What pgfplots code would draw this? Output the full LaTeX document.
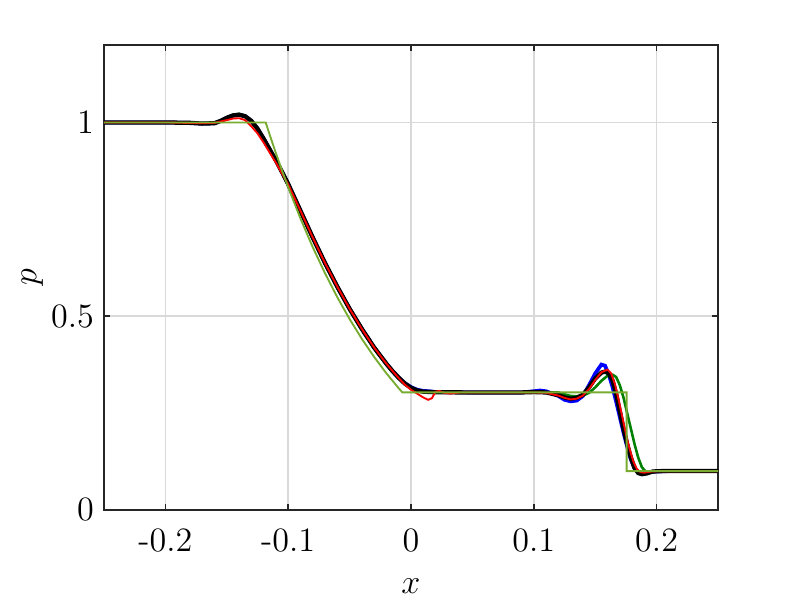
\documentclass[border=0pt]{standalone}
\usepackage{pgfplots}
\pgfplotsset{compat=1.18}
\usetikzlibrary{calc}
\definecolor{mlgreen}{rgb}{0.466,0.674,0.188}
\definecolor{dkgreen}{rgb}{0,0.5,0}
\begin{document}
\begin{tikzpicture}
\begin{axis}[
    name=ax,
    scale only axis,
    width=215bp, height=162.75bp,
    xmin=-0.25, xmax=0.25,
    ymin=0, ymax=1.2,
    xtick={-0.2,-0.1,0,0.1,0.2},
    xticklabels={-0.2,-0.1,0,0.1,0.2},
    ytick={0,0.5,1},
    yticklabels={0,0.5,1},
    tick label style={font=\large},
    label style={font=\large},
    xticklabel shift=3bp,
    xlabel shift=2.5bp,
    ylabel shift=-4bp,
    xlabel={$x$}, ylabel={$p$},
    grid=major,
    major grid style={black!15, line width=0.5bp},
    axis line style={black!85, line width=0.5bp},
    major tick length=2.1bp,
    tick style={black!85, line width=0.5bp},
    tick align=inside,
]
% blue
\addplot[blue, line width=1.3bp] coordinates {
(-0.25,1.0) (-0.2,1.0) (-0.18,0.999) (-0.17,0.997) (-0.16,0.998) (-0.155,1.004)
(-0.15,1.012) (-0.145,1.018) (-0.14,1.020) (-0.135,1.016) (-0.13,1.004) (-0.125,0.984)
(-0.12,0.958) (-0.115,0.930) (-0.11,0.902) (-0.105,0.872) (-0.10,0.841) (-0.09,0.772)
(-0.08,0.703) (-0.07,0.637) (-0.06,0.576) (-0.05,0.519) (-0.04,0.467) (-0.03,0.419)
(-0.02,0.377) (-0.015,0.358) (-0.01,0.341) (-0.005,0.327) (0,0.317) (0.005,0.310)
(0.01,0.307) (0.015,0.306) (0.02,0.304) (0.05,0.303) (0.09,0.303) (0.1,0.306)
(0.105,0.308) (0.11,0.306) (0.12,0.294) (0.125,0.284) (0.13,0.280) (0.135,0.282)
(0.14,0.294) (0.145,0.322) (0.15,0.352) (0.155,0.375) (0.158,0.372) (0.161,0.350)
(0.164,0.318) (0.167,0.280) (0.170,0.240) (0.173,0.200) (0.176,0.163) (0.179,0.130)
(0.182,0.107) (0.185,0.097) (0.19,0.096) (0.2,0.099) (0.21,0.1) (0.25,0.1)
};
% dark green
\addplot[dkgreen, line width=0.9bp] coordinates {
(-0.25,1.0) (-0.2,1.0) (-0.17,0.997) (-0.16,0.999) (-0.155,1.005) (-0.15,1.013)
(-0.145,1.020) (-0.14,1.022) (-0.135,1.017) (-0.13,1.003) (-0.125,0.983) (-0.12,0.957)
(-0.115,0.929) (-0.11,0.900) (-0.105,0.870) (-0.10,0.838) (-0.09,0.769) (-0.08,0.700)
(-0.07,0.634) (-0.06,0.573) (-0.05,0.516) (-0.04,0.464) (-0.03,0.416) (-0.02,0.374)
(-0.01,0.338) (-0.005,0.324) (0,0.313) (0.005,0.307) (0.01,0.304) (0.02,0.303)
(0.12,0.303) (0.125,0.298) (0.13,0.294) (0.135,0.293) (0.14,0.295) (0.145,0.302)
(0.15,0.316) (0.155,0.333) (0.16,0.346) (0.164,0.349) (0.167,0.343) (0.17,0.322)
(0.173,0.290) (0.176,0.250) (0.179,0.210) (0.182,0.170) (0.185,0.135) (0.188,0.110)
(0.191,0.099) (0.195,0.097) (0.2,0.099) (0.21,0.1) (0.25,0.1)
};
% black
\addplot[black, line width=1.5bp] coordinates {
(-0.25,1.0) (-0.2,1.0) (-0.18,0.999) (-0.17,0.997) (-0.16,0.998) (-0.155,1.004)
(-0.15,1.012) (-0.145,1.018) (-0.14,1.020) (-0.135,1.016) (-0.13,1.004) (-0.125,0.984)
(-0.12,0.958) (-0.115,0.930) (-0.11,0.902) (-0.105,0.872) (-0.10,0.841) (-0.09,0.772)
(-0.08,0.703) (-0.07,0.637) (-0.06,0.576) (-0.05,0.519) (-0.04,0.467) (-0.03,0.419)
(-0.02,0.377) (-0.015,0.358) (-0.01,0.341) (-0.005,0.326) (0,0.315) (0.005,0.308)
(0.01,0.305) (0.02,0.3035) (0.05,0.303) (0.09,0.303) (0.10,0.304) (0.11,0.303)
(0.12,0.296) (0.125,0.290) (0.13,0.287) (0.135,0.289) (0.14,0.297) (0.145,0.316)
(0.15,0.339) (0.155,0.354) (0.158,0.357) (0.161,0.352) (0.164,0.335) (0.167,0.300)
(0.170,0.255) (0.173,0.21) (0.176,0.170) (0.179,0.135) (0.182,0.108) (0.185,0.095)
(0.188,0.092) (0.192,0.094) (0.197,0.099) (0.205,0.100) (0.25,0.1)
};
% red
\addplot[red, line width=0.65bp] coordinates {
(-0.25,1.0) (-0.2,1.0) (-0.17,0.998) (-0.16,0.999) (-0.15,1.006) (-0.145,1.010)
(-0.14,1.011) (-0.135,1.006) (-0.13,0.990) (-0.125,0.972) (-0.12,0.948) (-0.115,0.922)
(-0.11,0.896) (-0.105,0.868) (-0.10,0.840) (-0.09,0.772) (-0.08,0.703) (-0.07,0.637)
(-0.06,0.576) (-0.05,0.519) (-0.04,0.467) (-0.03,0.419) (-0.02,0.377) (-0.01,0.340)
(-0.005,0.323) (0,0.310) (0.005,0.300) (0.01,0.290) (0.014,0.284) (0.017,0.288)
(0.02,0.305) (0.023,0.307) (0.027,0.302) (0.032,0.300) (0.04,0.303) (0.1,0.303)
(0.11,0.302) (0.12,0.295) (0.125,0.289) (0.13,0.285) (0.135,0.287) (0.14,0.295)
(0.145,0.312) (0.15,0.335) (0.155,0.355) (0.16,0.362) (0.163,0.352) (0.166,0.325)
(0.169,0.285) (0.172,0.24) (0.175,0.196) (0.178,0.157) (0.181,0.125) (0.184,0.105)
(0.187,0.097) (0.19,0.096) (0.196,0.099) (0.205,0.1) (0.25,0.1)
};
% exact
\addplot[mlgreen, line width=0.65bp] coordinates {
(-0.25,1.0) (-0.1183,1.0) (-0.115,0.9677) (-0.11,0.9208) (-0.105,0.8758) (-0.10,0.8327)
(-0.09,0.7521) (-0.08,0.6781) (-0.07,0.6105) (-0.06,0.5488) (-0.05,0.4925) (-0.04,0.4412)
(-0.03,0.3946) (-0.02,0.3522) (-0.01,0.3138) (-0.007,0.3031) (0.1756,0.3031)
(0.1756,0.1) (0.25,0.1)
};
\end{axis}
\path ($(ax.south west)+(-36.4bp,-34.65bp)$) rectangle ($(ax.north east)+(26.25bp,15.75bp)$);
\end{tikzpicture}
\end{document}
